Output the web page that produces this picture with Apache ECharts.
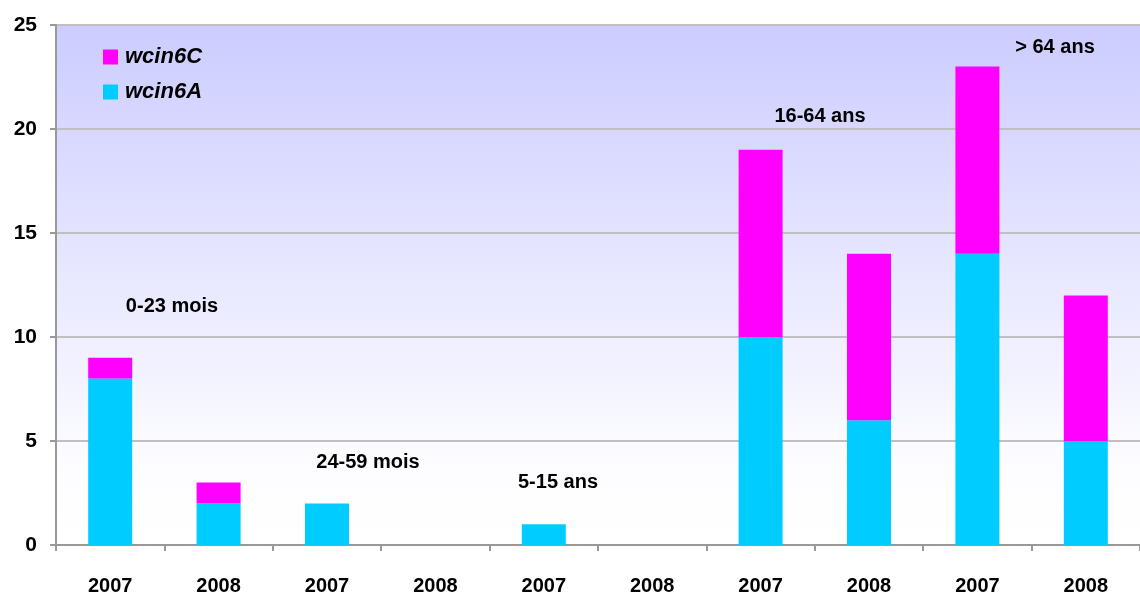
<!DOCTYPE html>
<html><head><meta charset="utf-8">
<script src="https://cdn.jsdelivr.net/npm/echarts@6/dist/echarts.min.js"></script>
<style>html,body{margin:0;padding:0;background:#fff}#c{width:1140px;height:597px}</style>
</head><body><div id="c"></div>
<script>
const categories = ['2007','2008','2007','2008','2007','2008','2007','2008','2007','2008'];
const wcin6A = [8,2,2,0,1,0,10,6,14,5];
const wcin6C = [1,1,0,0,0,0,9,8,9,7];
const groupLabels = ['0-23 mois','24-59 mois','5-15 ans','16-64 ans','> 64 ans'];
const yTicks = [0,5,10,15,20,25];

const chart = echarts.init(document.getElementById('c'));
const font = 'Liberation Sans, Arial, sans-serif';
const groupPos = [[172,306],[368,462],[558,482],[820,116],[1055,47]];
chart.setOption({
  animation:false,
  backgroundColor:'#ffffff',
  grid:{left:56,right:0,top:25,bottom:52,show:true,borderWidth:0,
    backgroundColor:new echarts.graphic.LinearGradient(0,0,0,1,[{offset:0,color:'#ccccff'},{offset:0.85,color:'#fdfdff'},{offset:1,color:'#ffffff'}])},
  legend:{orient:'vertical',left:103,top:46,padding:0,itemWidth:15,itemHeight:15,itemGap:13,
    icon:'rect',data:['wcin6C','wcin6A'],
    textStyle:{fontFamily:font,fontSize:22,lineHeight:22,fontWeight:'bold',fontStyle:'italic',color:'#000',padding:[0,0,0,2]}},
  xAxis:{type:'category',data:categories,
    axisLine:{lineStyle:{color:'#999',width:2}},
    axisTick:{show:true,length:6,lineStyle:{color:'#999',width:2}},
    axisLabel:{fontFamily:font,fontSize:20,fontWeight:'bold',color:'#000',margin:31}},
  yAxis:{type:'value',min:0,max:25,interval:5,
    axisLine:{show:true,lineStyle:{color:'#999',width:2}},
    axisTick:{show:true,length:6,lineStyle:{color:'#999',width:2}},
    splitLine:{lineStyle:{color:'#c0c0c0',width:2}},
    axisLabel:{fontFamily:font,fontSize:21,fontWeight:'bold',color:'#000',margin:19,
      formatter:v=>yTicks.includes(v)?String(v):''}},
  series:[
    {name:'wcin6A',type:'bar',stack:'s',data:wcin6A,barWidth:'40.6%',itemStyle:{color:'#00ccff'}},
    {name:'wcin6C',type:'bar',stack:'s',data:wcin6C,barWidth:'40.6%',itemStyle:{color:'#ff00ff'}}
  ],
  graphic:groupLabels.map((t,i)=>({type:'text',x:groupPos[i][0],y:groupPos[i][1],
    style:{text:t,font:'bold 20px '+font,fill:'#000',textAlign:'center',textVerticalAlign:'middle'}}))
});
</script></body></html>
